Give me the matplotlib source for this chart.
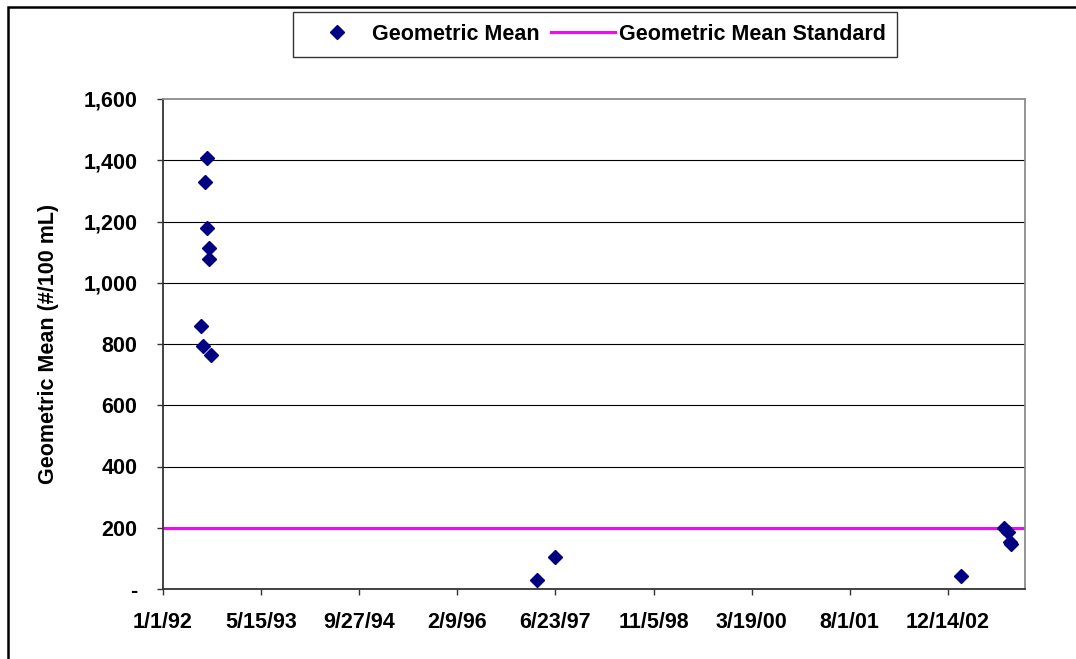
import numpy as np
import matplotlib
matplotlib.use("Agg")
import matplotlib.pyplot as plt
import matplotlib.dates as mdates
from matplotlib.patches import Rectangle
from matplotlib.ticker import FuncFormatter, FixedLocator

# ---- data ----
sample_dates = ["1992-08-14", "1992-08-02", "1992-08-12", "1992-08-22", "1992-08-23",
                "1992-07-13", "1992-07-21", "1992-09-02",
                "1997-03-21", "1997-06-21",
                "2003-02-19", "2003-09-28", "2003-10-15", "2003-10-28", "2003-11-01"]
geo_mean = [1407, 1329, 1179, 1115, 1078, 858, 793, 765,
            30, 104,
            42, 198, 185, 152, 146]
standard_value = 200
series_labels = ["Geometric Mean", "Geometric Mean Standard"]
y_label = "Geometric Mean (#/100 mL)"
y_ticks = [0, 200, 400, 600, 800, 1000, 1200, 1400, 1600]
x_start = "1992-01-01"
x_end = "2004-01-11"
x_tick_step_days = 500

plt.rcParams['font.family'] = ['Liberation Sans', 'DejaVu Sans']
plt.rcParams['font.weight'] = 'bold'

FS = 15.5
W, H = 1076, 659
fig = plt.figure(figsize=(W / 100, H / 100), dpi=100)
fig.patch.set_facecolor('white')

left, right, top, bottom = 163, 1025, 99, 589
ax = fig.add_axes([left / W, 1 - bottom / H, (right - left) / W, (bottom - top) / H])

dates = np.array(sample_dates, dtype='datetime64[D]')
x0 = np.datetime64(x_start)
x1 = np.datetime64(x_end)

# horizontal gridlines (inner ticks)
for yv in y_ticks[1:-1]:
    ax.axhline(yv, color='black', lw=0.8, zorder=1)

std_line, = ax.plot([x0, x1], [standard_value, standard_value], color='#FF00FF', lw=2.3,
                    zorder=2, label=series_labels[1])
pts, = ax.plot(dates, geo_mean, linestyle='none', marker='D', markersize=7.2,
               color='#000080', markeredgecolor='#000080', zorder=3, label=series_labels[0])

ax.set_xlim(x0, x1)
ax.set_ylim(y_ticks[0], y_ticks[-1])

xticks = [mdates.date2num(x0 + np.timedelta64(k * x_tick_step_days, 'D')) for k in range(9)]
ax.xaxis.set_major_locator(FixedLocator(xticks))

def fmt_date(v, pos=None):
    d = mdates.num2date(v)
    return f"{d.month}/{d.day}/{d.year % 100:02d}"

ax.xaxis.set_major_formatter(FuncFormatter(fmt_date))
ax.yaxis.set_major_locator(FixedLocator(y_ticks))
ax.yaxis.set_major_formatter(FuncFormatter(lambda v, p: '-' if v == 0 else f"{int(v):,}"))

ax.tick_params(axis='both', direction='out', length=4.5, width=1.0, color='#333333',
               labelsize=FS)
ax.tick_params(axis='y', pad=14)
ax.tick_params(axis='x', pad=12)
for lab in ax.get_xticklabels() + ax.get_yticklabels():
    lab.set_fontweight('bold')

ax.spines['left'].set_color('#333333')
ax.spines['bottom'].set_color('#333333')
ax.spines['left'].set_linewidth(1.3)
ax.spines['bottom'].set_linewidth(1.3)
ax.spines['top'].set_color('#8c8c8c')
ax.spines['right'].set_color('#8c8c8c')
ax.spines['top'].set_linewidth(1.3)
ax.spines['right'].set_linewidth(1.3)

ax.set_ylabel(y_label, fontsize=FS, fontweight='bold')
ax.yaxis.set_label_coords((59 - left) / (right - left), 0.5)

leg = fig.legend(handles=[pts, std_line], labels=series_labels, ncol=2,
                 loc='center', bbox_to_anchor=(595 / W, 1 - 34.5 / H),
                 frameon=True, fancybox=False, shadow=False,
                 handlelength=3.0, handletextpad=0.15, columnspacing=0.5,
                 borderpad=0.55, prop={'weight': 'bold', 'size': FS})
leg.get_frame().set_edgecolor('black')
leg.get_frame().set_linewidth(1.0)

# outer chart border (top and left edges visible, extends beyond the image)
border = Rectangle((8 / W, -0.2), 1.3, 1 - 7 / H + 0.2, transform=fig.transFigure,
                   fill=False, edgecolor='black', lw=1.8, clip_on=False)
fig.patches.append(border)

fig.savefig('out.png', dpi=100)
